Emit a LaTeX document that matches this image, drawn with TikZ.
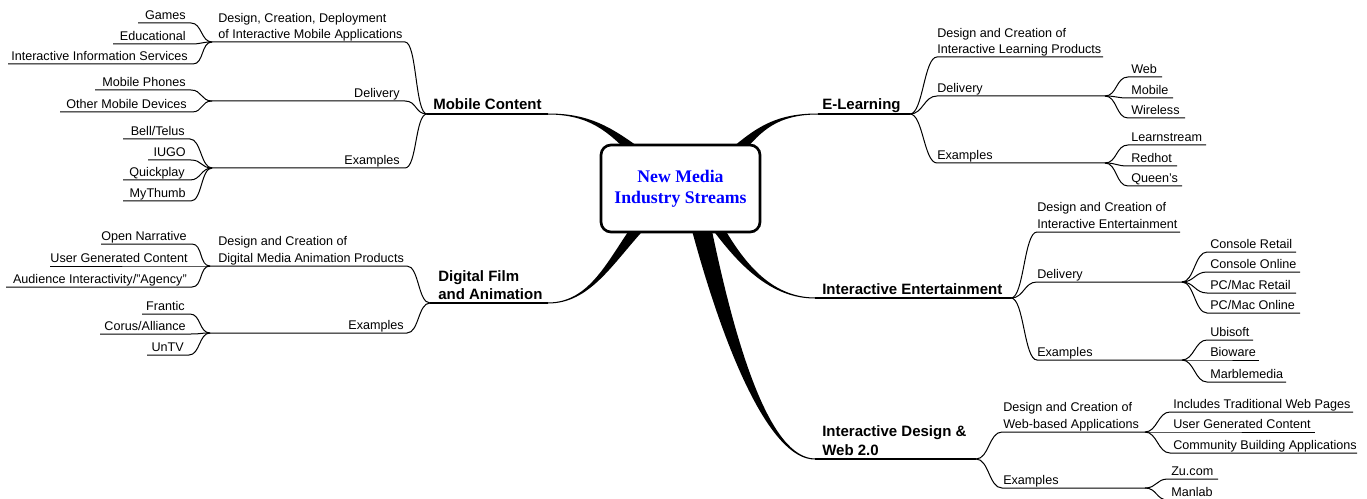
\documentclass[tikz,border=0pt]{standalone}
\usepackage{fontspec}
\setmainfont{Liberation Sans}
\newfontfamily\rootfont{Liberation Serif}
\tikzset{
  leaf/.style={inner sep=0pt, font=\fontsize{9.45}{12.4}\selectfont},
  mainlabel/.style={inner sep=0pt, font=\fontsize{11.25}{13.2}\selectfont\bfseries},
  thinline/.style={line width=0.75pt, draw=black},
  mainline/.style={line width=1.1pt, draw=black},
  taper/.style={fill=black},
  rootbox/.style={draw, line width=2pt, rounded corners=7.5pt, fill=white,
    minimum width=119.25pt, minimum height=65.25pt, inner sep=0pt,
    text=blue, font=\rootfont\bfseries\fontsize{13.3}{15.75}\selectfont},
}
\newcommand{\twoline}[2]{\begin{tabular}[b]{@{}l@{}}#1\\#2\end{tabular}}
% left leaf: name, junction, y, x left, x right, text
\newcommand{\LeafL}[6]{%
  \coordinate (#1-e) at (#5,#3);
  \coordinate (#1-s) at (#4,#3);
  \node[leaf,anchor=base east] (#1) at (#5-5,#3-3.5) {#6};
  \draw[thinline] (#2) .. controls +(-11,0) and +(11,0) .. (#1-e) -- (#1-s);
}
% right leaf: name, junction, y, x left, x right, text
\newcommand{\LeafR}[6]{%
  \coordinate (#1-s) at (#4,#3);
  \coordinate (#1-e) at (#5,#3);
  \node[leaf,anchor=base west] (#1) at (#4+3,#3-3.5) {#6};
  \draw[thinline] (#2) .. controls +(12,0) and +(-12,0) .. (#1-s) -- (#1-e);
}
% left branch: name (= leaf junction), main junction, y, x left, x right
\newcommand{\BranchL}[5]{%
  \coordinate (#1) at (#4,#3);
  \coordinate (#1-e) at (#5,#3);
  \draw[thinline] (#2) .. controls +(-12,0) and +(12,0) .. (#1-e) -- (#1);
}
% right branch: name (= leaf junction), main junction, y, x left, x right
\newcommand{\BranchR}[5]{%
  \coordinate (#1-s) at (#4,#3);
  \coordinate (#1) at (#5,#3);
  \draw[thinline] (#2) .. controls +(13,0) and +(-13,0) .. (#1-s) -- (#1);
}
\begin{document}
\begin{tikzpicture}[x=0.75pt,y=-0.75pt]
\fill[white] (0,0) rectangle (1367,499);
\useasboundingbox (0,0) rectangle (1367,499);

% ---------- tapered connectors from the root ----------
\fill[taper] (548,113.5) .. controls (590,113.4) and (611.8,127.9) .. (639.6,147.8)
  -- (632.4,156.2) .. controls (608.2,132.1) and (590,114.6) .. (548,114.5) -- cycle;
\fill[taper] (548,303.5) .. controls (590,303.5) and (612.3,263.9) .. (644.7,228.8)
  -- (635.3,221.2) .. controls (607.7,260.1) and (590,302.5) .. (548,302.5) -- cycle;
\fill[taper] (818,113.5) .. controls (778,113.4) and (758.1,126.1) .. (734.1,146.1)
  -- (741.9,153.9) .. controls (761.9,129.9) and (778,114.6) .. (818,114.5) -- cycle;
\fill[taper] (815,297.5) .. controls (770,297.4) and (742.3,260.5) .. (720.6,222)
  -- (711.4,228) .. controls (737.7,263.5) and (770,298.6) .. (815,298.5) -- cycle;
\fill[taper] (815,458.5) .. controls (770,458) and (735.8,348.6) .. (709.7,219.7)
  -- (690.3,224.3) .. controls (724.2,351.4) and (770,460) .. (815,459.5) -- cycle;

% ---------- root ----------
\node[rootbox] (root) at (680.5,188.5) {\begin{tabular}{@{}c@{}}New Media\\Industry Streams\end{tabular}};

% ---------- Mobile Content ----------
\coordinate (mc) at (427,114);
\coordinate (mc-t) at (548,114);
\draw[mainline] (mc) -- (mc-t);
\node[mainlabel,anchor=base west] (mcl) at (433,110) {Mobile Content};
\BranchL{mc1}{mc}{42}{212}{405}
\node[leaf,anchor=base west] (mc1l) at (218,39) {\twoline{Design, Creation, Deployment}{of Interactive Mobile Applications}};
\BranchL{mc2}{mc}{101}{212}{405}
\node[leaf,anchor=base east] (mc2l) at (400,97.5) {Delivery};
\BranchL{mc3}{mc}{168}{212}{405}
\node[leaf,anchor=base east] (mc3l) at (400,164.5) {Examples};
\LeafL{g}{mc1}{23}{138}{191}{Games}
\LeafL{ed}{mc1}{44}{113}{191}{Educational}
\LeafL{iis}{mc1}{64}{8}{193}{Interactive Information Services}
\LeafL{mp}{mc2}{90}{95}{191}{Mobile Phones}
\LeafL{omd}{mc2}{112}{60}{192}{Other Mobile Devices}
\LeafL{bt}{mc3}{139}{123}{190}{Bell/Telus}
\LeafL{iugo}{mc3}{160}{148}{191}{IUGO}
\LeafL{qp}{mc3}{180}{123}{190}{Quickplay}
\LeafL{mt}{mc3}{201}{123}{191}{MyThumb}

% ---------- Digital Film and Animation ----------
\coordinate (df) at (430,303);
\coordinate (df-t) at (548,303);
\draw[mainline] (df) -- (df-t);
\node[mainlabel,anchor=base west] (dfl) at (438,299.5) {\twoline{Digital Film}{and Animation}};
\BranchL{df1}{df}{266}{210}{407}
\node[leaf,anchor=base west] (df1l) at (218,262.5) {\twoline{Design and Creation of}{Digital Media Animation Products}};
\BranchL{df2}{df}{333}{210}{407}
\node[leaf,anchor=base east] (df2l) at (404,329.5) {Examples};
\LeafL{on}{df1}{244}{101}{192}{Open Narrative}
\LeafL{ugc}{df1}{266}{50}{193}{User Generated Content}
\LeafL{aia}{df1}{287}{6}{192}{Audience Interactivity/"Agency"}
\LeafL{fr}{df2}{314}{142}{190}{Frantic}
\LeafL{ca}{df2}{334}{100}{191}{Corus/Alliance}
\LeafL{untv}{df2}{355}{147}{189}{UnTV}

% ---------- E-Learning ----------
\coordinate (el) at (910,114);
\coordinate (el-t) at (818,114);
\draw[mainline] (el-t) -- (el);
\node[mainlabel,anchor=base west] (ell) at (822,110) {E-Learning};
\BranchR{el1}{el}{57}{937}{1103}
\node[leaf,anchor=base west] (el1l) at (937,54) {\twoline{Design and Creation of}{Interactive Learning Products}};
\BranchR{el2}{el}{96}{937}{1105}
\node[leaf,anchor=base west] (el2l) at (937,92.5) {Delivery};
\BranchR{el3}{el}{163}{937}{1105}
\node[leaf,anchor=base west] (el3l) at (937,159.5) {Examples};
\LeafR{web}{el2}{77}{1128}{1162}{Web}
\LeafR{mob}{el2}{98}{1128}{1173}{Mobile}
\LeafR{wl}{el2}{118}{1128}{1185}{Wireless}
\LeafR{ls}{el3}{145}{1128}{1206}{Learnstream}
\LeafR{rh}{el3}{166}{1128}{1177}{Redhot}
\LeafR{qu}{el3}{186}{1128}{1182}{Queen's}

% ---------- Interactive Entertainment ----------
\coordinate (ie) at (1011,298);
\coordinate (ie-t) at (815,298);
\draw[mainline] (ie-t) -- (ie);
\node[mainlabel,anchor=base west] (iel) at (822,294) {Interactive Entertainment};
\BranchR{ie1}{ie}{232}{1037}{1180}
\node[leaf,anchor=base west] (ie1l) at (1037,228.5) {\twoline{Design and Creation of}{Interactive Entertainment}};
\BranchR{ie2}{ie}{282}{1037}{1182}
\node[leaf,anchor=base west] (ie2l) at (1037,278.5) {Delivery};
\BranchR{ie3}{ie}{360}{1037}{1182}
\node[leaf,anchor=base west] (ie3l) at (1037,356.5) {Examples};
\LeafR{cr}{ie2}{252}{1207}{1296}{Console Retail}
\LeafR{co}{ie2}{272}{1207}{1300}{Console Online}
\LeafR{pr}{ie2}{293}{1207}{1296}{PC/Mac Retail}
\LeafR{po}{ie2}{313}{1207}{1300}{PC/Mac Online}
\LeafR{ub}{ie3}{340}{1207}{1253}{Ubisoft}
\LeafR{bw}{ie3}{360}{1207}{1259}{Bioware}
\LeafR{mm}{ie3}{382}{1207}{1286}{Marblemedia}

% ---------- Interactive Design & Web 2.0 ----------
\coordinate (id) at (976,459);
\coordinate (id-t) at (815,459);
\draw[mainline] (id-t) -- (id);
\node[mainlabel,anchor=base west,font=\fontsize{11.25}{14.2}\selectfont\bfseries] (idl) at (822,455) {\twoline{Interactive Design \&}{Web 2.0}};
\BranchR{id1}{id}{432}{1002}{1145}
\node[leaf,anchor=base west] (id1l) at (1003,428.5) {\twoline{Design and Creation of}{Web-based Applications}};
\BranchR{id2}{id}{488}{1002}{1145}
\node[leaf,anchor=base west] (id2l) at (1003,484.5) {Examples};
\LeafR{itw}{id1}{412}{1170}{1353}{Includes Traditional Web Pages}
\LeafR{ugcb}{id1}{432}{1170}{1315}{User Generated Content}
\LeafR{cba}{id1}{453}{1170}{1357}{Community Building Applications}
\LeafR{zu}{id2}{479}{1168}{1218}{Zu.com}
\LeafR{ml}{id2}{500}{1168}{1205}{Manlab}
\end{tikzpicture}
\end{document}
